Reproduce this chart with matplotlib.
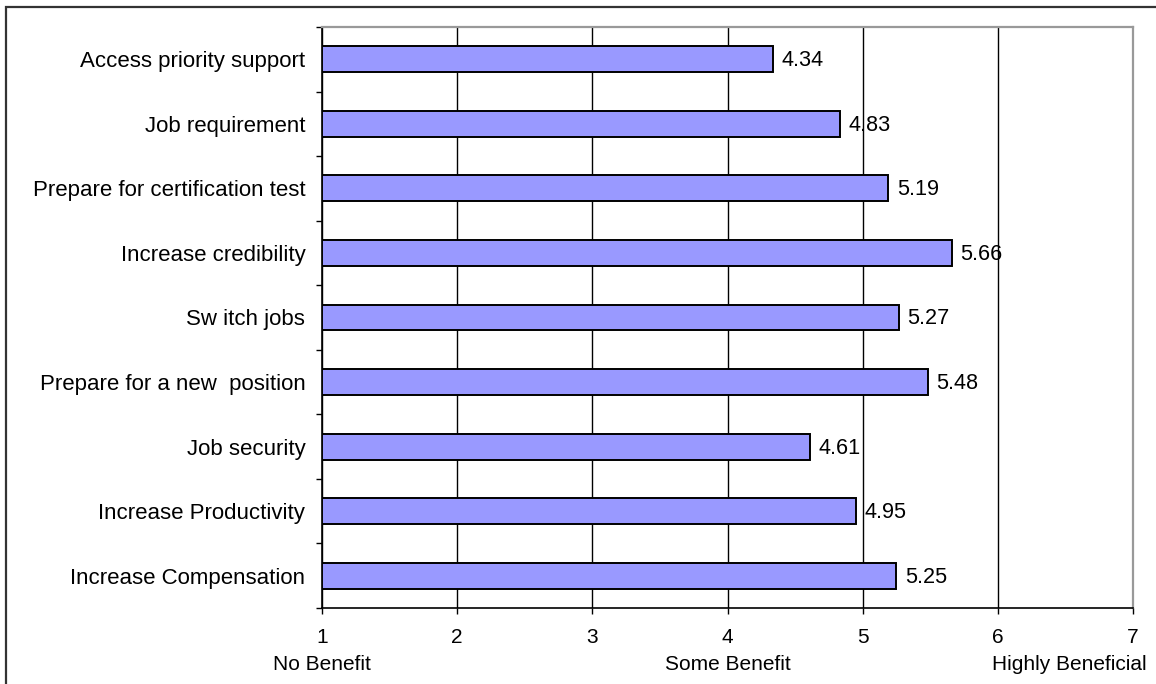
import matplotlib
matplotlib.use("Agg")
import matplotlib.pyplot as plt
from matplotlib.patches import Rectangle
import numpy as np

plt.rcParams['font.family'] = ['Liberation Sans', 'DejaVu Sans']

# survey reasons, listed top to bottom
reasons = [
    "Access priority support",
    "Job requirement",
    "Prepare for certification test",
    "Increase credibility",
    "Sw itch jobs",
    "Prepare for a new  position",
    "Job security",
    "Increase Productivity",
    "Increase Compensation",
]
scores = [4.34, 4.83, 5.19, 5.66, 5.27, 5.48, 4.61, 4.95, 5.25]

scale_ticks = [1, 2, 3, 4, 5, 6, 7]
scale_names = {1: "No Benefit", 4: "Some Benefit", 7: "Highly Beneficial"}

W, H = 1156, 684
fig = plt.figure(figsize=(W / 100, H / 100), dpi=100)
ax = fig.add_axes([322 / W, 1 - 608 / H, (1133 - 322) / W, (608 - 27) / H])

fs = 15
y = np.arange(len(reasons))
bars = ax.barh(y, np.array(scores) - 1, left=1, height=0.4,
               color="#9999FF", edgecolor="black", linewidth=1.4, zorder=3)

for yi, v in zip(y, scores):
    ax.annotate(f"{v:.2f}", xy=(v, yi), xytext=(6, -1), textcoords="offset points",
                ha="left", va="center", fontsize=15.6, zorder=4)

ax.set_xlim(1, 7)
ax.set_ylim(len(reasons) - 0.5, -0.5)
ax.set_xticks(scale_ticks)
ax.set_xticklabels([str(t) for t in scale_ticks], fontsize=fs)
ax.tick_params(axis="x", direction="out", length=4.3, width=1, pad=10)

ax.set_yticks(y)
ax.set_yticklabels(reasons, fontsize=16)
ax.set_yticks(np.arange(len(reasons) + 1) - 0.5, minor=True)
ax.tick_params(axis="y", which="major", length=0, pad=12)
ax.tick_params(axis="y", which="minor", direction="out", length=4.3, width=1)

# descriptive names under selected scale points
for t, name in scale_names.items():
    ha = "right" if t == scale_ticks[-1] else "center"
    dx = 14 if t == scale_ticks[-1] else 0
    ax.annotate(name, xy=(t, 0), xycoords=("data", "axes fraction"),
                xytext=(dx, -62), textcoords="offset pixels",
                ha=ha, va="baseline", fontsize=fs)

ax.set_axisbelow(True)
ax.xaxis.grid(True, color="black", linewidth=1)
ax.yaxis.grid(False)

for side in ("left", "bottom"):
    ax.spines[side].set_color("black")
    ax.spines[side].set_linewidth(1.2)
for side in ("top", "right"):
    ax.spines[side].set_color("#999999")
    ax.spines[side].set_linewidth(1.6)

# outer chart frame
fig.patches.append(Rectangle((6 / W, -0.1), 1.2, 1.1 - 7 / H, transform=fig.transFigure,
                             fill=False, edgecolor="#333333", linewidth=1.6))

fig.savefig("out.png", dpi=100, facecolor="white")
